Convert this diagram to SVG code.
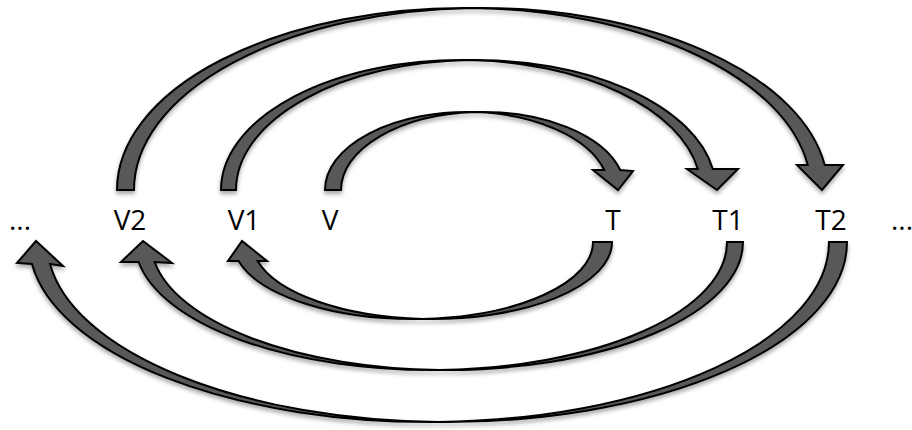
<svg xmlns="http://www.w3.org/2000/svg" width="912" height="430" viewBox="0 0 912 430">
  <style>
    .arrow { fill: #595959; stroke: #000; stroke-width: 2; stroke-linejoin: miter; filter: url(#shadow); }
    .label { font-family: "Open Sans", "Liberation Sans", sans-serif; font-size: 28px; fill: #000; text-anchor: middle; }
  </style>
  <defs>
    <filter id="shadow" x="-10%" y="-10%" width="120%" height="130%">
      <feDropShadow dx="0" dy="3" stdDeviation="2" flood-color="#000" flood-opacity="0.35"/>
    </filter>
  </defs>
  <rect width="912" height="430" fill="#fff"/>

  <g id="connectors">
    <!-- V -> T -->
    <path class="arrow" d="M325,190 A142,78 0 0 1 475,112.12 A142,78 0 0 1 620.25,170 L633,171 L618,190 L593,170 L604.25,170 A142,78 0 0 0 475,112.12 A142,78 0 0 0 341,190 Z"/>
    <!-- V1 -> T1 -->
    <path class="arrow" d="M221,190 A240,130 0 0 1 468.5,60.06 A240,130 0 0 1 712.85,169 L738,169 L717,190 L687,169 L697.85,169 A240,130 0 0 0 468.5,60.06 A240,130 0 0 0 236,190 Z"/>
    <!-- V2 -> T2 -->
    <path class="arrow" d="M117,190 A347,182 0 0 1 472.5,8.05 A347,182 0 0 1 824.71,165 L843,165 L822,190 L797,165 L807.71,165 A347,182 0 0 0 472.5,8.05 A347,182 0 0 0 134,190 Z"/>
    <!-- T -> V1 -->
    <path class="arrow" d="M612,242 A180,77 0 0 1 422.5,318.89 A180,77 0 0 1 238.57,261 L228,261 L242,241 L267,261 L257.57,261 A180,77 0 0 0 422.5,318.89 A180,77 0 0 0 593,242 Z"/>
    <!-- T1 -> V2 -->
    <path class="arrow" d="M743,242 A296,128 0 0 1 439,369.95 A296,128 0 0 1 138.63,262 L121,262 L143,241 L172,263 L154.63,262 A296,128 0 0 0 439,369.95 A296,128 0 0 0 727,242 Z"/>
    <!-- T2 -> ... -->
    <path class="arrow" d="M847,242 A400,180 0 0 1 438,421.95 A400,180 0 0 1 32,264 L17,263 L36,241 L63,266 L50,264 A400,180 0 0 0 438,421.95 A400,180 0 0 0 829,242 Z"/>
  </g>

  <g id="node-dots-left"><text class="label" x="20" y="230">...</text></g>
  <g id="node-V2"><text class="label" x="130" y="230">V2</text></g>
  <g id="node-V1"><text class="label" x="244" y="230">V1</text></g>
  <g id="node-V"><text class="label" x="330" y="230">V</text></g>
  <g id="node-T"><text class="label" x="613" y="230">T</text></g>
  <g id="node-T1"><text class="label" x="728" y="230">T1</text></g>
  <g id="node-T2"><text class="label" x="831" y="230">T2</text></g>
  <g id="node-dots-right"><text class="label" x="902" y="230">...</text></g>
</svg>
